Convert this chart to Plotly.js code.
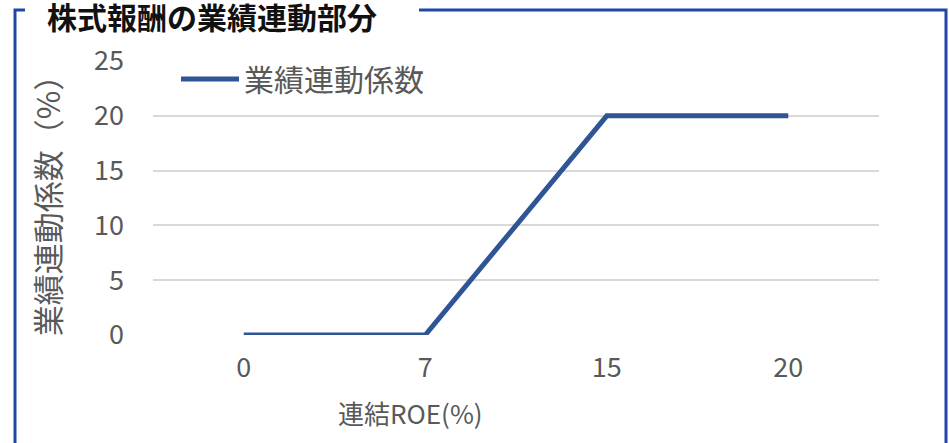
<!DOCTYPE html>
<html>
<head>
<meta charset="utf-8">
<script src="https://cdn.plot.ly/plotly-3.0.1.min.js"></script>
<style>
html,body{margin:0;padding:0;background:#fff;}
#chart{width:949px;height:443px;}
</style>
</head>
<body>
<div id="chart"></div>
<script>
const categories = ["0", "7", "15", "20"];
const coefficientValues = [0, 0, 20, 20];
const seriesName = "業績連動係数";
const yTickValues = [0, 5, 10, 15, 20, 25];

const FONT = '"Noto Sans CJK JP", "Noto Sans", sans-serif';
const GRAY = '#595959';

// plot area in px: x 153..879, y 61..335
const L = 153, R = 879, T = 61, B = 335;
const px = v => (v - L) / (R - L);
const py = v => (B - v) / (B - T);

const trace = {
  type: 'scatter',
  mode: 'lines',
  x: categories,
  y: coefficientValues,
  name: seriesName,
  line: {color: '#2F5597', width: 5, shape: 'linear'},
  hoverinfo: 'x+y'
};

const borderColor = '#1E48A8';
const layout = {
  width: 949, height: 443,
  margin: {l: L, r: 949 - R, t: T, b: 443 - B, pad: 0},
  paper_bgcolor: '#fff', plot_bgcolor: '#fff',
  font: {family: FONT, color: GRAY, size: 27},
  title: {
    text: '<b>株式報酬の業績連動部分</b>',
    x: 47 / 949, xanchor: 'left', xref: 'container',
    y: 1 - 18 / 443, yanchor: 'middle', yref: 'container',
    font: {family: FONT, size: 30, color: '#111'}
  },
  showlegend: true,
  legend: {
    x: px(176), xanchor: 'left', y: py(79), yanchor: 'middle',
    bgcolor: 'rgba(0,0,0,0)', font: {family: FONT, size: 30, color: GRAY},
    itemwidth: 58
  },
  xaxis: {
    type: 'category', range: [-0.5, 3.5],
    showgrid: false, zeroline: false, showline: false, ticks: '',
    tickfont: {family: FONT, size: 27, color: GRAY},
    ticklabelstandoff: 14,
    fixedrange: true
  },
  yaxis: {
    range: [0, 25], tickvals: yTickValues,
    showgrid: true, gridcolor: '#D9D9D9', gridwidth: 1.5,
    zeroline: false, showline: false, ticks: '',
    tickfont: {family: FONT, size: 27, color: GRAY},
    ticklabelstandoff: 28,
    title: {text: '業績連動係数（%）', font: {family: FONT, size: 31, color: GRAY}, standoff: 24},
    fixedrange: true
  },
  annotations: [{
    text: '連結ROE(%)', xref: 'paper', yref: 'paper',
    x: px(410), y: py(412), xanchor: 'center', yanchor: 'middle',
    showarrow: false, font: {family: FONT, size: 26, color: GRAY}
  }],
  shapes: [
    {type: 'path', xref: 'paper', yref: 'paper', layer: 'above',
     path: `M${px(15)},${py(460)} L${px(15)},${py(10)} L${px(25)},${py(10)}`,
     line: {color: borderColor, width: 3}},
    {type: 'path', xref: 'paper', yref: 'paper', layer: 'above',
     path: `M${px(419)},${py(10)} L${px(946)},${py(10)} L${px(946)},${py(460)}`,
     line: {color: borderColor, width: 3}}
  ]
};

Plotly.newPlot('chart', [trace], layout, {displayModeBar: false});
</script>
</body>
</html>
